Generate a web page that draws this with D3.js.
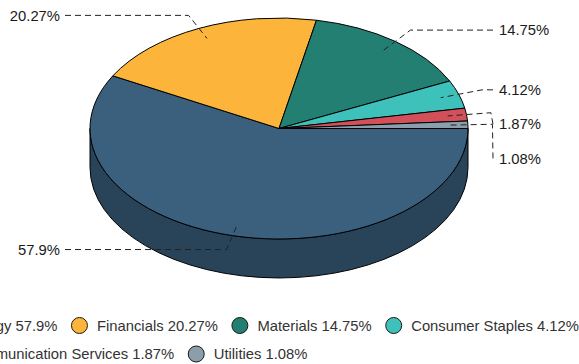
<!DOCTYPE html>
<html>
<head>
<meta charset="utf-8">
<script src="https://cdn.jsdelivr.net/npm/d3@7/dist/d3.min.js"></script>
<style>
  html, body { margin: 0; padding: 0; background: #fff; overflow: hidden; }
  text { font-family: "Liberation Sans", Arial, Helvetica, sans-serif; }
</style>
</head>
<body>
<svg id="chart" width="579" height="364"></svg>
<script>
// Sector weights (%)
const sectors = ["Energy", "Financials", "Materials", "Consumer Staples", "Communication Services", "Utilities"];
const shares = [57.9, 20.27, 14.75, 4.12, 1.87, 1.08];
const palette = ["#3a607e", "#fdb43a", "#227f72", "#3fc1bb", "#d1505a", "#8a9eab"];

const W = 579, H = 364;
const svg = d3.select("#chart");

// tilted pie geometry
const cx = 279, cy = 128.5, rx = 189, ry = 110.5, depth = 39;
const fontSize = 14.8;

const color = d3.scaleOrdinal().domain(sectors).range(palette);
const data = sectors.map((s, i) => ({ sector: s, value: shares[i] }));

// start at 3 o'clock, go clockwise
const pie = d3.pie().sort(null).value(d => d.value)
  .startAngle(Math.PI / 2).endAngle(Math.PI / 2 + 2 * Math.PI);
const arcs = pie(data);

const px = (a, k = 1) => cx + rx * k * Math.sin(a);
const py = (a, k = 1) => cy - ry * k * Math.cos(a);

function topPath(a0, a1) {
  const large = (a1 - a0) > Math.PI ? 1 : 0;
  return `M${cx},${cy}L${px(a0)},${py(a0)}A${rx},${ry} 0 ${large} 1 ${px(a1)},${py(a1)}Z`;
}
function wallPath(a0, a1) {
  const large = (a1 - a0) > Math.PI ? 1 : 0;
  return `M${px(a0)},${py(a0)}A${rx},${ry} 0 ${large} 1 ${px(a1)},${py(a1)}` +
         `L${px(a1)},${py(a1) + depth}A${rx},${ry} 0 ${large} 0 ${px(a0)},${py(a0) + depth}Z`;
}

// front-facing outer walls (angles between 3 and 9 o'clock, lower half)
const frontLo = Math.PI / 2, frontHi = 3 * Math.PI / 2;
const walls = svg.append("g");
arcs.forEach(d => {
  const s = Math.max(d.startAngle, frontLo), e = Math.min(d.endAngle, frontHi);
  if (e > s) {
    walls.append("path")
      .attr("d", wallPath(s, e))
      .attr("fill", d3.color(color(d.data.sector)).darker(1).formatHex())
      .attr("stroke", "#000").attr("stroke-width", 1).attr("stroke-linejoin", "round");
  }
});

// top faces
svg.append("g").selectAll("path").data(arcs).join("path")
  .attr("d", d => topPath(d.startAngle, d.endAngle))
  .attr("fill", d => color(d.data.sector))
  .attr("stroke", "#000").attr("stroke-width", 1).attr("stroke-linejoin", "round");

// data labels with dashed connectors
const labelK = 1.13, touchK = 0.9, gap = 34.3, labelOff = 25;
const labels = arcs.map(d => {
  const mid = (d.startAngle + d.endAngle) / 2;
  const right = Math.sin(mid) >= 0;
  return {
    d, mid, right,
    x: right ? cx + rx + labelOff : cx - rx - labelOff,
    y: py(mid, labelK),
    bx: px(mid, labelK), by: py(mid, labelK),
    tx: px(mid, touchK), ty: py(mid, touchK)
  };
});
[true, false].forEach(side => {
  const group = labels.filter(l => l.right === side).sort((a, b) => a.y - b.y);
  for (let i = 1; i < group.length; i++) {
    if (group[i].y < group[i - 1].y + gap) group[i].y = group[i - 1].y + gap;
  }
});

const lg = svg.append("g");
labels.forEach(l => {
  lg.append("path")
    .attr("d", `M${l.x},${l.y}L${l.bx},${l.by}L${l.tx},${l.ty}`)
    .attr("fill", "none").attr("stroke", "#222").attr("stroke-width", 1)
    .attr("stroke-dasharray", "6,4");
  lg.append("text")
    .attr("x", l.right ? l.x + 6 : l.x - 5)
    .attr("y", l.y)
    .attr("dy", "0.35em")
    .attr("text-anchor", l.right ? "start" : "end")
    .attr("font-size", fontSize)
    .attr("fill", "#1a1a1a")
    .text(`${l.d.data.value}%`);
});

// legend (wider than the chart, so it runs past both edges)
const legend = svg.append("g");
const legendStartX = -53, legendY = 325.5, rowH = 28.5, wrapAt = 600;
let lx = legendStartX, ly = legendY;
data.forEach(d => {
  const item = legend.append("g");
  const t = item.append("text")
    .attr("font-size", fontSize)
    .attr("fill", "#333")
    .attr("dy", "0.35em")
    .text(`${d.sector} ${d.value}%`);
  const tw = t.node().getComputedTextLength();
  if (lx + 17.5 + tw > wrapAt) { lx = legendStartX; ly += rowH; }
  t.attr("x", lx + 17.5).attr("y", ly);
  item.append("circle")
    .attr("cx", lx).attr("cy", ly).attr("r", 8)
    .attr("fill", color(d.sector))
    .attr("stroke", "#1a1a1a").attr("stroke-width", 1);
  lx += 17.5 + tw + 22;
});
</script>
</body>
</html>
